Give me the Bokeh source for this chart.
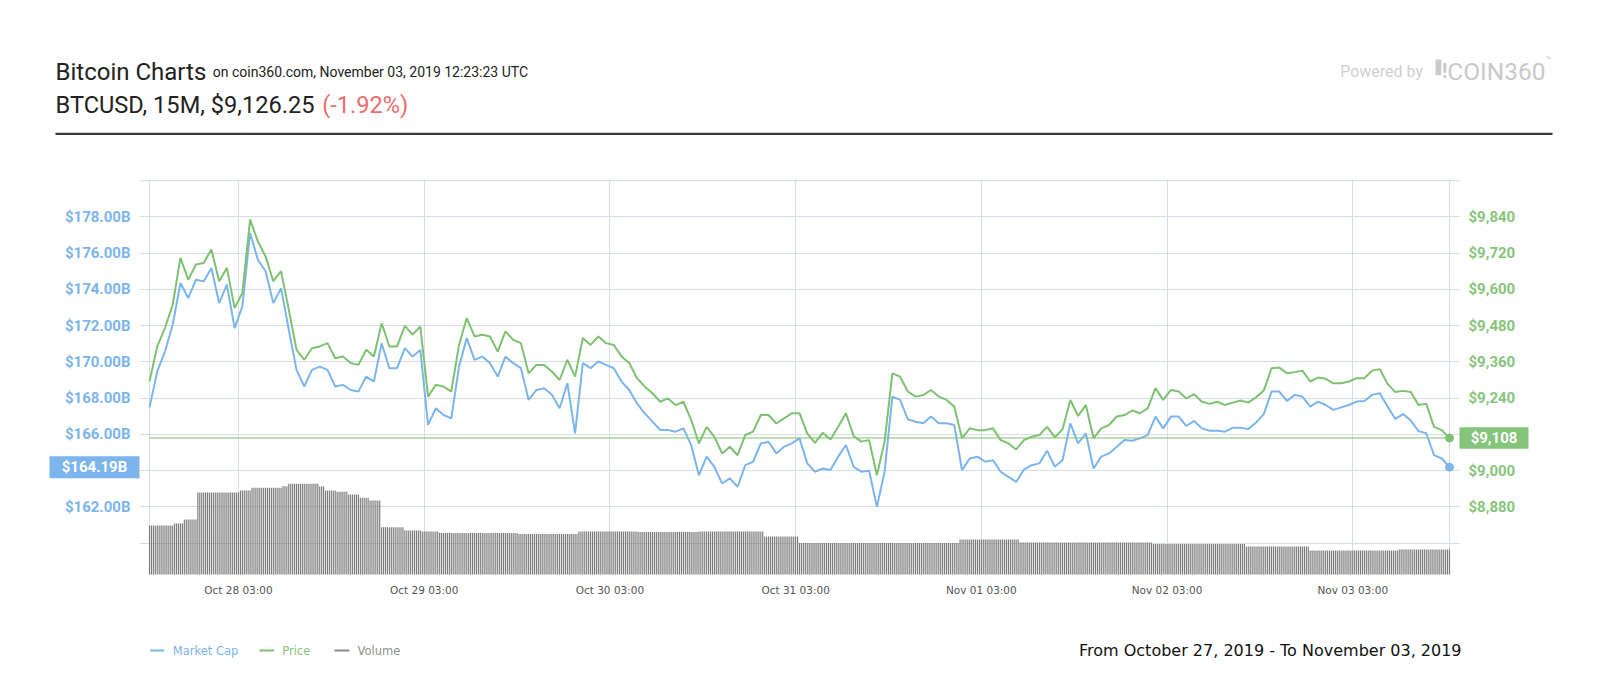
from datetime import datetime, timedelta
import numpy as np
from bokeh.plotting import figure
from bokeh.models import (Range1d, LinearAxis, DatetimeAxis, FixedTicker, PrintfTickFormatter,
                          NumeralTickFormatter, DatetimeTickFormatter, Label,
                          BoxAnnotation, ColumnDataSource)
from bokeh.embed import file_html
from bokeh.resources import INLINE

# ---------------- data ----------------
start = datetime(2019, 10, 27, 15, 30)   # first hourly sample

price = [
    9295, 9411, 9472, 9549, 9704, 9632, 9682, 9687, 9732, 9627,
    9671, 9538, 9588, 9831, 9759, 9709, 9627, 9660, 9533, 9400,
    9367, 9405, 9411, 9422, 9372, 9378, 9356, 9350, 9400, 9378,
    9488, 9411, 9411, 9479, 9450, 9477, 9245, 9284, 9278, 9262,
    9416, 9505, 9444, 9450, 9444, 9394, 9461, 9433, 9422, 9322,
    9350, 9350, 9328, 9300, 9367, 9311, 9439, 9416, 9444, 9422,
    9416, 9378, 9356, 9306, 9278, 9256, 9228, 9239, 9217, 9228,
    9168, 9090, 9145, 9112, 9057, 9079, 9051, 9118, 9129, 9184,
    9184, 9156, 9173, 9190, 9190, 9123, 9092, 9125, 9103, 9145,
    9190, 9114, 9096, 9101, 8985, 9096, 9322, 9311, 9262, 9245,
    9250, 9267, 9245, 9234, 9212, 9107, 9140, 9134, 9134, 9140,
    9101, 9090, 9070, 9101, 9112, 9118, 9145, 9110, 9137, 9234,
    9181, 9217, 9107, 9140, 9151, 9179, 9184, 9199, 9190, 9206,
    9273, 9234, 9267, 9262, 9239, 9253, 9228, 9221, 9228, 9217,
    9225, 9232, 9225, 9243, 9265, 9339, 9341, 9322, 9326, 9331,
    9295, 9308, 9304, 9289, 9289, 9295, 9306, 9306, 9331, 9336,
    9287, 9260, 9264, 9260, 9217, 9221, 9145, 9134, 9108]

market_cap = [
    167.49, 169.47, 170.57, 172.05, 174.35, 173.52, 174.53, 174.44, 175.18, 173.24,
    174.26, 171.86, 173.06, 177.11, 175.64, 175.00, 173.24, 174.07, 171.77, 169.56,
    168.64, 169.56, 169.74, 169.56, 168.64, 168.73, 168.45, 168.36, 169.19, 168.91,
    171.03, 169.65, 169.65, 170.76, 170.29, 170.66, 166.52, 167.44, 167.07, 166.88,
    169.74, 171.31, 170.11, 170.29, 169.93, 169.19, 170.29, 169.93, 169.65, 167.90,
    168.45, 168.54, 168.18, 167.44, 168.82, 166.06, 169.93, 169.65, 170.02, 169.83,
    169.65, 168.91, 168.45, 167.71, 167.16, 166.70, 166.24, 166.24, 166.15, 166.33,
    165.41, 163.75, 164.77, 164.21, 163.29, 163.57, 163.11, 164.30, 164.49, 165.50,
    165.59, 164.95, 165.32, 165.50, 165.78, 164.40, 163.94, 164.12, 164.03, 164.77,
    165.41, 164.21, 163.94, 163.99, 162.00, 163.94, 168.08, 167.90, 166.83, 166.70,
    166.61, 166.98, 166.61, 166.61, 166.52, 164.03, 164.67, 164.77, 164.49, 164.58,
    163.94, 163.66, 163.38, 164.06, 164.30, 164.40, 165.10, 164.21, 164.58, 166.61,
    165.50, 166.06, 164.12, 164.77, 164.95, 165.32, 165.69, 165.65, 165.78, 165.96,
    166.98, 166.33, 166.98, 166.98, 166.46, 166.74, 166.33, 166.20, 166.20, 166.15,
    166.37, 166.37, 166.29, 166.65, 167.12, 168.36, 168.36, 167.84, 168.18, 168.08,
    167.53, 167.81, 167.62, 167.35, 167.49, 167.62, 167.81, 167.84, 168.18, 168.27,
    167.53, 166.85, 167.12, 166.76, 166.18, 166.06, 164.86, 164.67, 164.19]

# volume (15-minute bars), stored as levels with the number of bars at each level
volume_levels = [4.96, 5.16, 5.57, 8.30, 8.50, 8.78, 8.94, 9.18, 8.91, 8.50,
                 8.37, 8.10, 7.77, 7.49, 4.79, 4.46, 4.35, 4.20, 4.10, 4.35,
                 4.30, 4.35, 3.85, 3.19, 3.54, 3.24, 3.09, 2.84, 2.43, 2.53]
volume_runs = [13, 5, 7, 22, 6, 16, 3, 16, 3, 6,
               6, 6, 5, 6, 12, 9, 9, 41, 31, 31,
               31, 34, 18, 83, 31, 69, 48, 33, 46, 27]

cap_ticks = [160, 162, 164, 166, 168, 170, 172, 174, 176, 178, 180]
price_ticks = [8760, 8880, 9000, 9120, 9240, 9360, 9480, 9600, 9720, 9840, 9960]
day_ticks = [datetime(2019, 10, 28, 3), datetime(2019, 10, 29, 3), datetime(2019, 10, 30, 3),
             datetime(2019, 10, 31, 3), datetime(2019, 11, 1, 3), datetime(2019, 11, 2, 3),
             datetime(2019, 11, 3, 3)]

cap_axis_min, cap_axis_max = 158.27, 180.06
volume_axis_max = 40

last_price = 9108
last_cap = 164.19
last_price_text = "$9,108"
last_cap_text = "$164.19B"

title_main = "Bitcoin Charts"
title_sub = "on coin360.com, November 03, 2019 12:23:23 UTC"
title_pair = "BTCUSD, 15M, $9,126.25"
title_change = "(-1.92%)"
footer = "From October 27, 2019 - To November 03, 2019"
legend_names = ["Market Cap", "Price", "Volume"]

# ---------------- styles / layout ----------------
BLUE = "#7cb5ec"
GREEN = "#7dc171"
GREEN_TXT = "#86c57c"
GRAY_BAR = "#7a7a7a"
GRID = "#d5dee7"

W, H = 1584, 684                 # canvas
L, R, T, B = 149, 1449, 179, 574  # chart area inside canvas (pixels)

EPOCH = datetime(1970, 1, 1)
def ms(dt):
    return (dt - EPOCH).total_seconds() * 1000.0

hours = [start + timedelta(hours=i) for i in range(len(price))]
vol_values = np.repeat(volume_levels, volume_runs)
vol_times = [start + timedelta(minutes=15 * q) for q in range(len(vol_values))]
end = hours[-1]

start_ms, end_ms = ms(start), ms(end)
px_ms = (end_ms - start_ms) / (R - L)
kc = (cap_axis_max - cap_axis_min) / (B - T)
kv = volume_axis_max / (B - T)

def to_price(c):
    return 60 * c - 840

x_range = Range1d(start_ms - L * px_ms, end_ms + (W - R) * px_ms)
y_lo, y_hi = cap_axis_min - (H - B) * kc, cap_axis_max + T * kc
y_range = Range1d(y_lo, y_hi)

p = figure(width=W, height=H, x_range=x_range, y_range=y_range,
           x_axis_location=None, y_axis_location=None, min_border=0,
           toolbar_location=None, output_backend="svg")
p.outline_line_color = None
p.background_fill_color = "white"
p.border_fill_color = "white"
for g in list(p.grid):
    g.visible = False
p.extra_y_ranges = {"price": Range1d(to_price(y_lo), to_price(y_hi)),
                    "vol": Range1d(-(H - B) * kv, volume_axis_max + T * kv)}

# bottom axis (its long inward ticks form the vertical grid)
xa = DatetimeAxis(fixed_location=cap_axis_min, bounds=(start_ms, end_ms),
                  ticker=FixedTicker(ticks=[ms(d) for d in day_ticks]))
fmt = "%b %d %H:%M"
xa.formatter = DatetimeTickFormatter(minutes=fmt, hourmin=fmt, hours=fmt, days=fmt, months=fmt, years=fmt)
xa.axis_line_color = None
xa.major_tick_line_color = GRID
xa.minor_tick_line_color = None
xa.major_tick_out = 0
xa.major_tick_in = B - T
xa.major_label_standoff = 9
xa.major_label_text_font = "DejaVu Sans"
xa.major_label_text_font_size = "10.5px"
xa.major_label_text_color = "#555555"
xa.level = "underlay"
p.add_layout(xa, "below")

# left axis (market cap) -- inward ticks form the horizontal grid
ya = LinearAxis(fixed_location=start_ms, bounds=(cap_axis_min, cap_axis_max),
                ticker=FixedTicker(ticks=cap_ticks), formatter=PrintfTickFormatter(format="$%.2fB"))
ya.major_label_overrides = {160: "", 164: "", 180: ""}
ya.axis_line_color = GRID
ya.major_tick_line_color = GRID
ya.minor_tick_line_color = None
ya.major_tick_out = 10
ya.major_tick_in = R - L
ya.major_label_standoff = 9
ya.major_label_text_color = BLUE
ya.major_label_text_font = "Roboto"
ya.major_label_text_font_style = "bold"
ya.major_label_text_font_size = "15px"
ya.level = "underlay"
p.add_layout(ya, "left")

# right axis (price)
ra = LinearAxis(y_range_name="price", fixed_location=end_ms,
                bounds=(to_price(cap_axis_min), to_price(cap_axis_max)),
                ticker=FixedTicker(ticks=price_ticks), formatter=NumeralTickFormatter(format="$0,0"))
ra.major_label_overrides = {8760: "", 9120: "", 9960: ""}
ra.axis_line_color = GRID
ra.major_tick_line_color = GRID
ra.minor_tick_line_color = None
ra.major_tick_out = 10
ra.major_tick_in = 0
ra.major_label_standoff = 9
ra.major_label_text_color = GREEN_TXT
ra.major_label_text_font = "Roboto"
ra.major_label_text_font_style = "bold"
ra.major_label_text_font_size = "15px"
ra.level = "underlay"
p.add_layout(ra, "right")

# volume bars
vsrc = ColumnDataSource(dict(x=vol_times, top=vol_values))
p.vbar(x="x", top="top", bottom=0, width=15 * 60 * 1000 * 0.6, source=vsrc,
       y_range_name="vol", fill_color=GRAY_BAR, line_color=None)

# lines
src = ColumnDataSource(dict(t=hours, cap=market_cap, price=price))
p.line("t", "cap", source=src, line_color=BLUE, line_width=2)
p.line("t", "price", source=src, y_range_name="price", line_color=GREEN, line_width=2)
p.line([start, end], [last_price, last_price], y_range_name="price", line_color=GREEN, line_width=1)
p.scatter([end], [last_cap], size=8, color=BLUE)
p.scatter([end], [last_price], size=8, color=GREEN, y_range_name="price")

# ---------------- helpers (screen units: x from left, y from top of canvas) ----------------
def label(x, y, text, size, color, font="Roboto", style="normal", baseline="alphabetic",
          align="left", y_units="screen", y_range_name="default"):
    p.add_layout(Label(x=x, y=(H - y) if y_units == "screen" else y, x_units="screen",
                       y_units=y_units, y_range_name=y_range_name, text=text,
                       text_font=font, text_font_size=size, text_color=color,
                       text_font_style=style, text_baseline=baseline, text_align=align))

def box(left, right, top, bottom, color):
    p.add_layout(BoxAnnotation(left=left, right=right, bottom=H - bottom, top=H - top,
                               left_units="screen", right_units="screen",
                               top_units="screen", bottom_units="screen",
                               fill_color=color, fill_alpha=1, line_color=None, line_alpha=0))

# value tags
p.add_layout(BoxAnnotation(left=49, right=139, left_units="screen", right_units="screen",
                           bottom=last_cap - 11 * kc, top=last_cap + 11 * kc,
                           fill_color=BLUE, fill_alpha=1, line_color=None, line_alpha=0))
label(94, last_cap, last_cap_text, "15px", "white", style="bold", baseline="middle",
      align="center", y_units="data")
p.add_layout(BoxAnnotation(left=1459, right=1528, left_units="screen", right_units="screen",
                           bottom=last_price - 10.7 * kc * 60, top=last_price + 10.7 * kc * 60,
                           y_range_name="price",
                           fill_color="#85c47b", fill_alpha=1, line_color=None, line_alpha=0))
label(1493.5, last_price, last_price_text, "15px", "white", style="bold", baseline="middle",
      align="center", y_units="data", y_range_name="price")

# header
label(55, 71, title_main, "24px", "#222222")
label(212.3, 71, title_sub, "14px", "#222222")
label(55, 104, title_pair, "23.6px", "#222222")
label(321.7, 104, title_change, "23.6px", "#ee6b6b")
box(55, 1552, 132.2, 134.4, "#3c3c3c")

# powered by
label(1339.7, 70.7, "Powered by", "16px", "#cfcfcf")
box(1435, 1440.7, 59, 74.7, "#c9c9c9")
label(1441.5, 70.7, "!", "20px", "#c9c9c9", style="bold")
label(1446.8, 70.7, "COIN360", "24.5px", "#c9c9c9")
label(1545, 59, "\u2122", "9px", "#c9c9c9")

# legend
box(149.7, 163.7, 649, 651, BLUE)
box(259, 273.7, 649, 651, GREEN)
box(334, 349, 649, 651, "#8a8a8a")
label(172.3, 650, legend_names[0], "11.5px", BLUE, font="DejaVu Sans", baseline="middle")
label(281.7, 650, legend_names[1], "11.5px", GREEN_TXT, font="DejaVu Sans", baseline="middle")
label(357, 650, legend_names[2], "11.5px", "#909090", font="DejaVu Sans", baseline="middle")

# footer
label(1078.5, 650, footer, "16px", "#111111", font="DejaVu Sans", baseline="middle")

open("out.html", "w").write(file_html(p, INLINE))
